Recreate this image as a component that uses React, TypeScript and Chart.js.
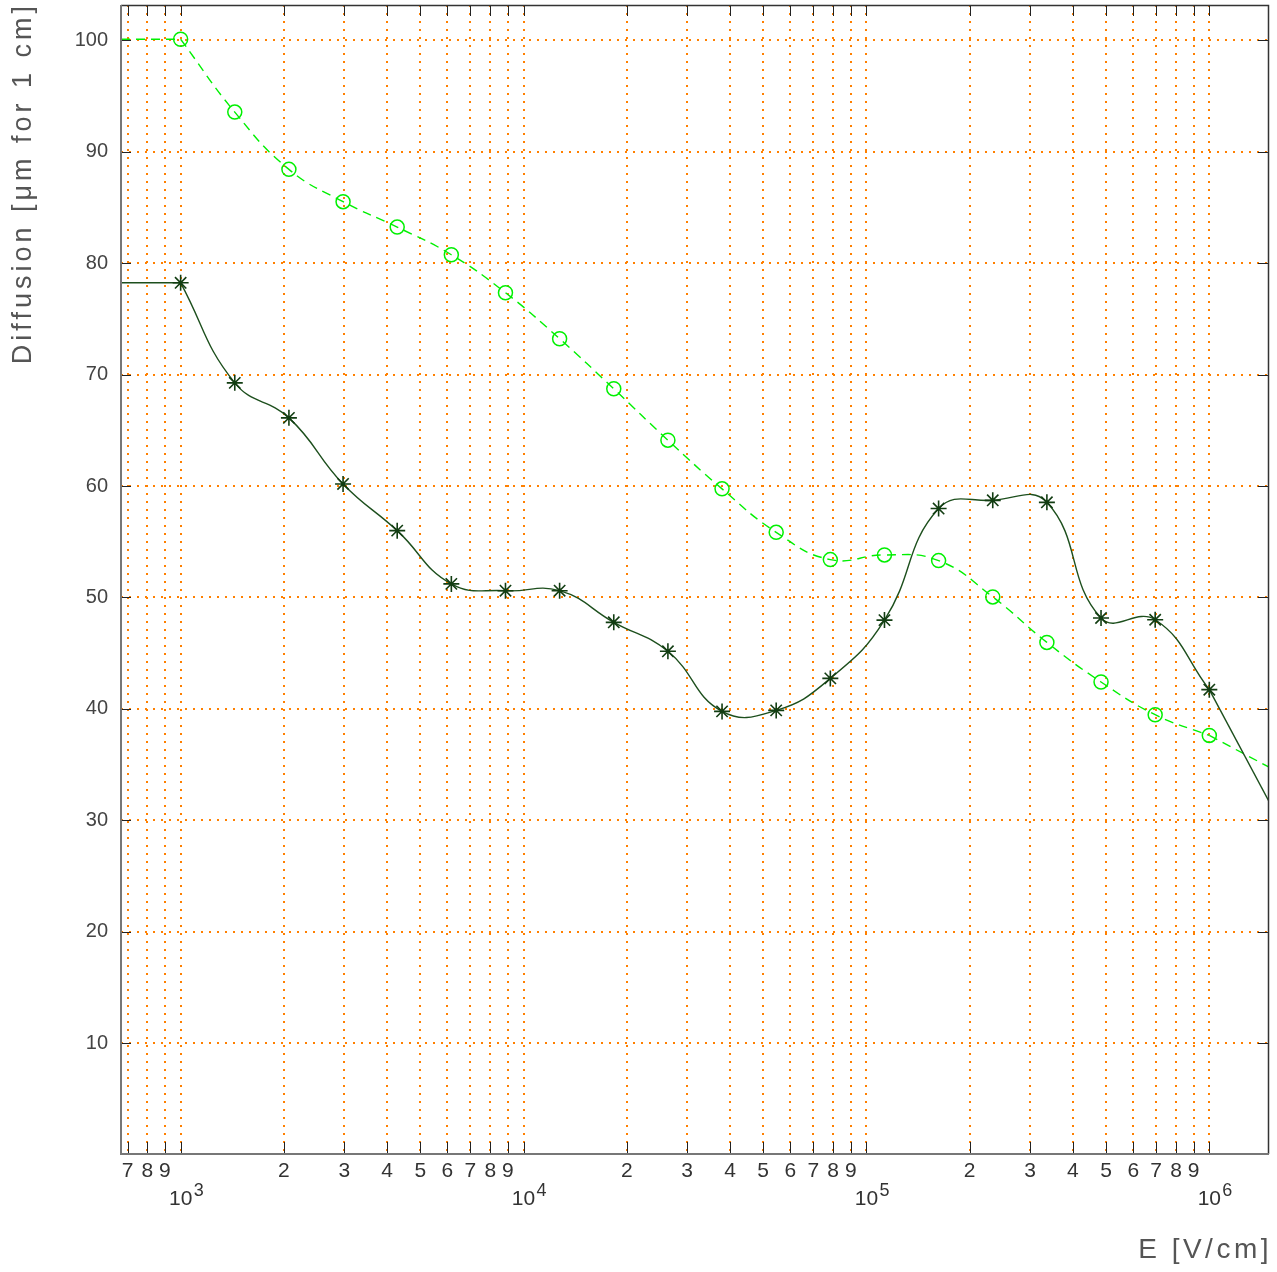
import React, { useEffect, useRef } from 'react';
import { Chart, registerables } from 'chart.js';

Chart.register(...registerables);

// Electric field values (V/cm), log-spaced sample points
const E_FIELD = [
  1000, 1438.45, 2069.14, 2976.35, 4281.33, 6158.48, 8858.67, 12742.7, 18329.8, 26366.5,
  37926.9, 54555.9, 78475.9, 112883.8, 162377.7, 233572, 335982, 483293, 695193, 1000000,
];
// Dark green (stars, solid)
const DIFF_STARS = [
  78.24, 69.26, 66.12, 60.19, 56.0, 51.22, 50.61, 50.61, 47.77, 45.17,
  39.78, 39.87, 42.74, 47.97, 57.98, 58.72, 58.54, 48.16, 48.0, 41.73,
];
// Light green (circles, dashed)
const DIFF_CIRCLES = [
  100.1, 93.56, 88.42, 85.52, 83.24, 80.76, 77.35, 73.22, 68.73, 64.12,
  59.75, 55.85, 53.4, 53.82, 53.31, 50.05, 45.97, 42.42, 39.48, 37.62,
];
// curve values at the left / right frame edges
const STARS_EDGE = [78.24, 31.7];
const CIRCLES_EDGE = [100.1, 34.78];

const X_RANGE = [670, 1493000];
const Y_RANGE = [0.06, 103.17];
const X_TICKS = [
  700, 800, 900,
  1000, 2000, 3000, 4000, 5000, 6000, 7000, 8000, 9000,
  10000, 20000, 30000, 40000, 50000, 60000, 70000, 80000, 90000,
  100000, 200000, 300000, 400000, 500000, 600000, 700000, 800000, 900000,
  1000000,
];
const Y_TICKS = [10, 20, 30, 40, 50, 60, 70, 80, 90, 100];
const X_TITLE = 'E [V/cm]';
const Y_TITLE = 'Diffusion [\u03bcm for 1 cm]';

const FONT = '"Liberation Sans", Arial, Helvetica, sans-serif';
const GRID_COLOR = 'rgb(255,128,0)';
const DARK = '#1d4f1d';
const LIGHT = 'rgb(0,240,0)';

const isDecade = (v: number) => {
  const e = Math.log10(v);
  return Math.abs(e - Math.round(e)) < 1e-9;
};

const rootFrame = {
  id: 'rootFrame',
  afterDraw(chart: any) {
    const { ctx, chartArea } = chart;
    const { left, right, top, bottom } = chartArea;
    const xs = chart.scales.x;
    const ys = chart.scales.y;
    ctx.save();
    // inward tick marks
    ctx.strokeStyle = '#222';
    ctx.lineWidth = 1;
    ctx.beginPath();
    X_TICKS.forEach((v) => {
      const px = Math.round(xs.getPixelForValue(v)) + 0.5;
      ctx.moveTo(px, bottom);
      ctx.lineTo(px, bottom - 12);
      ctx.moveTo(px, top);
      ctx.lineTo(px, top + 11);
    });
    Y_TICKS.forEach((v) => {
      const py = Math.round(ys.getPixelForValue(v)) + 0.5;
      ctx.moveTo(left, py);
      ctx.lineTo(left + 10, py);
      ctx.moveTo(right, py);
      ctx.lineTo(right - 11, py);
    });
    ctx.stroke();
    // frame
    ctx.strokeStyle = '#333';
    ctx.lineWidth = 1.5;
    ctx.beginPath();
    ctx.moveTo(left, top + 0.5);
    ctx.lineTo(right - 0.5, top + 0.5);
    ctx.lineTo(right - 0.5, bottom);
    ctx.stroke();
    ctx.strokeStyle = '#777';
    ctx.lineWidth = 2;
    ctx.beginPath();
    ctx.moveTo(left, top);
    ctx.lineTo(left, bottom);
    ctx.lineTo(right, bottom);
    ctx.stroke();
    // decade exponents
    ctx.fillStyle = '#333';
    ctx.font = `18px ${FONT}`;
    ctx.textAlign = 'left';
    ctx.textBaseline = 'alphabetic';
    X_TICKS.forEach((v) => {
      if (isDecade(v)) {
        ctx.fillText(String(Math.round(Math.log10(v))), xs.getPixelForValue(v) + 13, bottom + 42);
      }
    });
    // axis titles
    ctx.fillStyle = '#555';
    (ctx as any).letterSpacing = '3.5px';
    ctx.font = `28px ${FONT}`;
    ctx.textAlign = 'right';
    ctx.fillText(X_TITLE, right + 3, chart.height - 14);
    ctx.save();
    ctx.translate(24, top);
    ctx.rotate(-Math.PI / 2);
    ctx.textAlign = 'right';
    ctx.textBaseline = 'middle';
    (ctx as any).letterSpacing = '4px';
    ctx.font = `27px ${FONT}`;
    ctx.fillText(Y_TITLE, 3, 0);
    ctx.restore();
    ctx.restore();
  },
};

const pts = (ys: number[]) => E_FIELD.map((x, i) => ({ x, y: ys[i] }));

export default function App() {
  const ref = useRef<HTMLCanvasElement>(null);
  useEffect(() => {
    if (!ref.current) return;
    const n = E_FIELD.length - 1;
    const edgeStyle = (color: string, dash: number[]) => ({
      borderColor: color,
      borderWidth: 1.4,
      borderDash: dash,
      pointRadius: 0,
      tension: 0,
      fill: false,
    });
    const chart = new Chart(ref.current, {
      type: 'line',
      data: {
        datasets: [
          {
            label: 'stars',
            data: pts(DIFF_STARS),
            borderColor: DARK,
            borderWidth: 1.4,
            tension: 0.45,
            pointStyle: 'star',
            pointRadius: 8,
            pointBorderColor: '#123d12',
            pointBorderWidth: 1.6,
            pointBackgroundColor: 'transparent',
            fill: false,
          },
          {
            label: 'stars-left',
            data: [{ x: X_RANGE[0], y: STARS_EDGE[0] }, { x: E_FIELD[0], y: DIFF_STARS[0] }],
            ...edgeStyle(DARK, []),
          },
          {
            label: 'stars-right',
            data: [{ x: E_FIELD[n], y: DIFF_STARS[n] }, { x: X_RANGE[1], y: STARS_EDGE[1] }],
            ...edgeStyle(DARK, []),
          },
          {
            label: 'circles',
            data: pts(DIFF_CIRCLES),
            borderColor: LIGHT,
            borderWidth: 1.4,
            borderDash: [9, 6],
            tension: 0.45,
            pointStyle: 'circle',
            pointRadius: 7,
            pointBorderColor: LIGHT,
            pointBorderWidth: 1.5,
            pointBackgroundColor: 'transparent',
            fill: false,
          },
          {
            label: 'circles-left',
            data: [{ x: X_RANGE[0], y: CIRCLES_EDGE[0] }, { x: E_FIELD[0], y: DIFF_CIRCLES[0] }],
            ...edgeStyle(LIGHT, [9, 6]),
          },
          {
            label: 'circles-right',
            data: [{ x: E_FIELD[n], y: DIFF_CIRCLES[n] }, { x: X_RANGE[1], y: CIRCLES_EDGE[1] }],
            ...edgeStyle(LIGHT, [9, 6]),
          },
        ],
      },
      options: {
        animation: false,
        responsive: false,
        devicePixelRatio: 1,
        layout: { autoPadding: false, padding: { top: 5, right: 8, left: 0, bottom: 0 } },
        plugins: { legend: { display: false }, tooltip: { enabled: false } },
        scales: {
          x: {
            type: 'logarithmic',
            min: X_RANGE[0],
            max: X_RANGE[1],
            afterBuildTicks: (axis: any) => {
              axis.ticks = X_TICKS.map((value) => ({ value }));
            },
            afterFit: (axis: any) => {
              axis.height = 118;
              axis.paddingLeft = 0;
              axis.paddingRight = 0;
              axis.paddingTop = 0;
              axis.paddingBottom = 0;
            },
            grid: {
              color: GRID_COLOR,
              lineWidth: 2,
              drawTicks: false,
              borderDash: [2, 6],
            } as any,
            border: { display: false, dash: [2, 6] },
            ticks: {
              autoSkip: false,
              maxRotation: 0,
              minRotation: 0,
              padding: 4,
              color: '#333',
              font: { family: FONT, size: 21, lineHeight: 1.3 },
              callback: (value: any) => {
                const v = Number(value);
                if (isDecade(v)) return ['', '10'];
                const m = Math.round(v / Math.pow(10, Math.floor(Math.log10(v) + 1e-9)));
                return String(m);
              },
            },
          },
          y: {
            type: 'linear',
            min: Y_RANGE[0],
            max: Y_RANGE[1],
            afterBuildTicks: (axis: any) => {
              axis.ticks = Y_TICKS.map((value) => ({ value }));
            },
            afterFit: (axis: any) => {
              axis.width = 121;
              axis.paddingLeft = 0;
              axis.paddingRight = 0;
              axis.paddingTop = 0;
              axis.paddingBottom = 0;
            },
            grid: {
              color: GRID_COLOR,
              lineWidth: 2,
              drawTicks: false,
              borderDash: [2, 6],
            } as any,
            border: { display: false, dash: [2, 6] },
            ticks: {
              padding: 13,
              color: '#444',
              font: { family: FONT, size: 20 },
              callback: (value: any) => String(value),
            },
          },
        },
      },
      plugins: [rootFrame],
    } as any);
    return () => chart.destroy();
  }, []);
  return (
    <div style={{ position: 'absolute', left: 0, top: 0, width: 1277, height: 1272, background: '#fff' }}>
      <canvas ref={ref} width={1277} height={1272} style={{ display: 'block', width: 1277, height: 1272 }} />
    </div>
  );
}
